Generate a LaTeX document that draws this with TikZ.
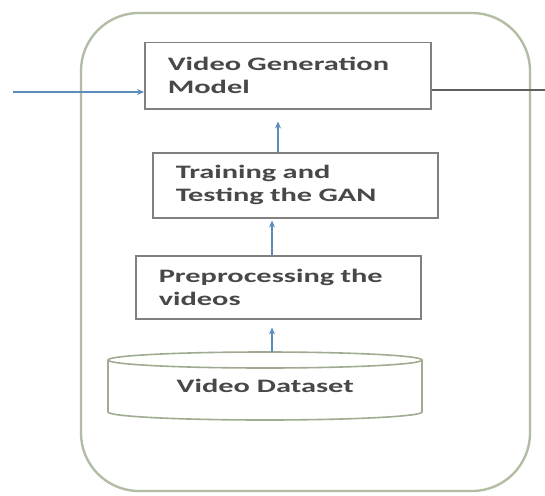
\documentclass[tikz,border=0pt]{standalone}
\usepackage{fontspec}
\newfontfamily\boxfont{Carlito}[FakeStretch=1.6]
\usetikzlibrary{arrows.meta}
\definecolor{outerc}{RGB}{178,190,164}
\definecolor{cylc}{RGB}{160,172,146}
\definecolor{boxc}{RGB}{128,128,128}
\definecolor{arrc}{RGB}{92,140,185}
\definecolor{txtc}{RGB}{72,72,72}
\definecolor{outc}{RGB}{95,95,95}
\tikzset{
  stepbox/.style={draw=boxc, line width=1.5pt, anchor=north west, inner xsep=23pt, inner ysep=0pt,
    align=left, font=\boxfont\bfseries\fontsize{19}{23}\selectfont, text=txtc},
  upar/.style={draw=arrc, line width=1.1pt, -{Stealth[length=7pt,width=6pt]}},
}
\begin{document}
\begin{tikzpicture}[x=1pt,y=-1pt]
\useasboundingbox (0,0) rectangle (545,495);
\fill[white] (0,0) rectangle (545,495);
% outer container
\draw[outerc, line width=2.4pt, rounded corners=58pt] (81,13) rectangle (530,491);
% boxes
\node[stepbox, minimum width=286pt, minimum height=66pt, text width=240pt] (vgm) at (144,42) {Video Generation\\Model};
\node[stepbox, minimum width=285pt, minimum height=65pt, text width=239pt] (tt) at (152,152) {Training and\\Testing the GAN};
\node[stepbox, minimum width=285pt, minimum height=63pt, text width=239pt] (pp) at (135,255) {Preprocessing the\\videos};
% cylinder
\node[anchor=north west, minimum width=314pt, minimum height=68pt, inner sep=0pt] (ds) at (108,352) {};
\filldraw[fill=white, draw=cylc, line width=1.6pt]
  (108,360) -- (108,412) arc[start angle=180, end angle=360, x radius=157pt, y radius=8pt] -- (422,360);
\draw[cylc, line width=1.6pt] (265,360) ellipse[x radius=157pt, y radius=8pt];
\node[font=\boxfont\bfseries\fontsize{19}{23}\selectfont, text=txtc] (dstext) at (ds.center) {Video Dataset};
% connectors
\coordinate (ax1) at (278,0);
\coordinate (ax2) at (272,0);
\coordinate (inp) at (13,92);
\coordinate (outp) at (545,90);
\draw[upar] (tt.north -| ax1) -- ([yshift=-12pt]vgm.south -| ax1);
\draw[upar] (pp.north -| ax2) -- ([yshift=-2pt]tt.south -| ax2);
\draw[upar] (ds.north -| ax2) -- ([yshift=-8pt]pp.south -| ax2);
\draw[upar] (inp) -- (inp -| vgm.west);
\draw[outc, line width=2pt] (outp -| vgm.east) -- (outp);
\end{tikzpicture}
\end{document}
